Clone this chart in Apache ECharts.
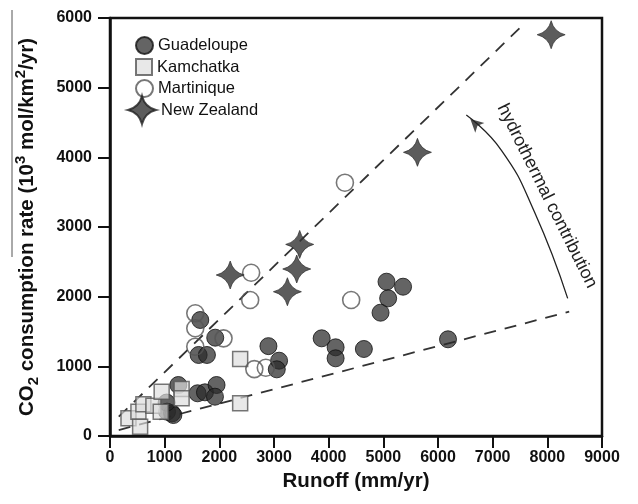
<!DOCTYPE html>
<html>
<head>
<meta charset="utf-8">
<script src="https://cdn.jsdelivr.net/npm/echarts@6/dist/echarts.min.js"></script>
<style>html,body{margin:0;padding:0;background:#fff;}#c{width:638px;height:504px;}</style>
</head>
<body>
<div id="c"></div>
<script>
// ---- data (runoff mm/yr, CO2 consumption 10^3 mol/km2/yr) ----
var guadeloupe = [
  [1044,349],[1135,325],[1159,301],[1036,480],
  [1250,732],[1602,613],[1737,627],[1949,732],[1920,564],
  [1651,1665],[1925,1411],[1621,1163],[1773,1163],
  [2898,1290],[3093,1081],[3051,957],
  [3872,1402],[4127,1273],[4127,1115],[4644,1249],
  [4949,1770],[5058,2215],[5088,1976],[5361,2143],
  [6183,1388]
];
var kamchatka = [
  [338,254],[520,349],[551,134],[611,455],[794,435],[928,349],
  [945,636],[1310,675],[1310,541],[2381,1105],[2381,469]
];
var martinique = [
  [1560,1761],[1560,1546],[1560,1282],[2077,1402],[2640,960],[2850,980],
  [2564,1952],[2582,2344],[4412,1952],[4297,3636]
];
var newZealand = [
  [2199,2311],[3245,2071],[3416,2397],[3470,2750],[5624,4072],[8070,5760]
];
var upperLine = [[160,277],[7520,5875]];
var lowerLine = [[160,86],[8400,1785]];
var arrowPath = [[8372,1976],[7765,3215],[7157,4105],[6518,4607]];
var arrowTip = [6518,4607];
var xTicks = {min:0, max:9000, interval:1000};
var yTicks = {min:0, max:6000, interval:1000};

var FONT = 'Liberation Sans, Arial, Helvetica, sans-serif';
var starPath = 'path://M50,0 Q60,40 100,50 Q60,60 50,100 Q40,60 0,50 Q40,40 50,0 Z';

var chart = echarts.init(document.getElementById('c'), null, {renderer:'canvas'});

function legendFor(name, top, left, w, h, gap) {
  return {
    data:[name], orient:'vertical', left:left, top:top,
    itemWidth:w, itemHeight:h, itemGap:0, itemTextGap:gap, padding:0,
    selectedMode:false,
    textStyle:{fontFamily:FONT, fontSize:16.5, color:'#111'}
  };
}
function plain(v){ return String(v); }

var option = {
  animation:false,
  backgroundColor:'#fff',
  grid:{left:110, top:18, right:36, bottom:68, containLabel:false, outerBoundsMode:'none',
        show:true, borderColor:'#111', borderWidth:2.5, backgroundColor:'transparent'},
  legend:[
    legendFor('Guadeloupe', 36, 135, 17, 17, 6),
    legendFor('Kamchatka', 58, 135, 16, 16, 7),
    legendFor('Martinique', 79, 135, 17, 17, 6),
    legendFor('New Zealand', 95, 127, 28, 28, -3)
  ],
  xAxis:{
    type:'value', min:xTicks.min, max:xTicks.max, interval:xTicks.interval,
    name:'Runoff (mm/yr)', nameLocation:'middle', nameGap:35,
    nameTextStyle:{fontFamily:FONT, fontSize:20.5, fontWeight:'bold', color:'#111'},
    axisLine:{show:true, lineStyle:{color:'#111', width:2.5}},
    axisTick:{show:true, inside:false, length:12, lineStyle:{color:'#111', width:2}},
    axisLabel:{fontFamily:FONT, fontSize:16, fontWeight:'bold', color:'#111', margin:14, formatter:plain},
    splitLine:{show:false}
  },
  yAxis:{
    type:'value', min:yTicks.min, max:yTicks.max, interval:yTicks.interval,
    name:'{a|CO}{s|2}{a| consumption rate (10}{p|3}{a| mol/km}{p|2}{a|/yr)}',
    nameLocation:'middle', nameGap:69, nameRotate:90,
    nameTextStyle:{
      padding:[0,0,0,0],
      rich:{
        a:{fontFamily:FONT, fontSize:20.5, fontWeight:'bold', color:'#111', lineHeight:28},
        s:{fontFamily:FONT, fontSize:15, fontWeight:'bold', color:'#111', lineHeight:15, verticalAlign:'bottom'},
        p:{fontFamily:FONT, fontSize:15, fontWeight:'bold', color:'#111', lineHeight:15, verticalAlign:'top'}
      }
    },
    axisLine:{show:true, lineStyle:{color:'#111', width:2.5}},
    axisTick:{show:true, inside:false, length:12, lineStyle:{color:'#111', width:2}},
    axisLabel:{fontFamily:FONT, fontSize:16, fontWeight:'bold', color:'#111', margin:18, formatter:plain},
    splitLine:{show:false}
  },
  series:[
    {
      type:'line', data:upperLine, symbol:'none', silent:true, z:1,
      lineStyle:{color:'#333', width:1.8, type:[12,9]}
    },
    {
      type:'line', data:lowerLine, symbol:'none', silent:true, z:1,
      lineStyle:{color:'#333', width:1.8, type:[12,9]}
    },
    {
      name:'Guadeloupe', type:'scatter', data:guadeloupe, symbol:'circle', symbolSize:17, z:2,
      itemStyle:{color:'rgba(40,40,40,0.9)', borderColor:'#111', borderWidth:1}
    },
    {
      name:'Kamchatka', type:'scatter', data:kamchatka, symbol:'rect', symbolSize:15, z:3,
      itemStyle:{color:'rgba(222,222,222,0.85)', borderColor:'#555', borderWidth:1.5}
    },
    {
      name:'Martinique', type:'scatter', data:martinique, symbol:'circle', symbolSize:17, z:4,
      itemStyle:{color:'rgba(255,255,255,0)', borderColor:'#555', borderWidth:1.6}
    },
    {
      name:'New Zealand', type:'scatter', data:newZealand, symbol:starPath, symbolSize:28, z:5,
      itemStyle:{color:'#333', borderColor:'#222', borderWidth:0.8}
    },
    {
      type:'line', data:arrowPath, smooth:0.5, symbol:'none', silent:true, z:6,
      lineStyle:{color:'#222', width:1.3}
    },
    {
      type:'scatter', data:[arrowTip], symbol:'arrow', symbolSize:[10,13], symbolRotate:47,
      symbolOffset:[4,4], silent:true, z:6,
      itemStyle:{color:'#222'}
    }
  ],
  graphic:[
    {type:'text', x:547, y:196, rotation:-63.5*Math.PI/180,
     style:{text:'hydrothermal contribution', font:'18px '+FONT, fill:'#222', align:'center', verticalAlign:'middle'}},
    {type:'line', shape:{x1:12, y1:10, x2:12, y2:257}, style:{stroke:'#555', lineWidth:1}}
  ]
};
chart.setOption(option);
</script>
</body>
</html>
